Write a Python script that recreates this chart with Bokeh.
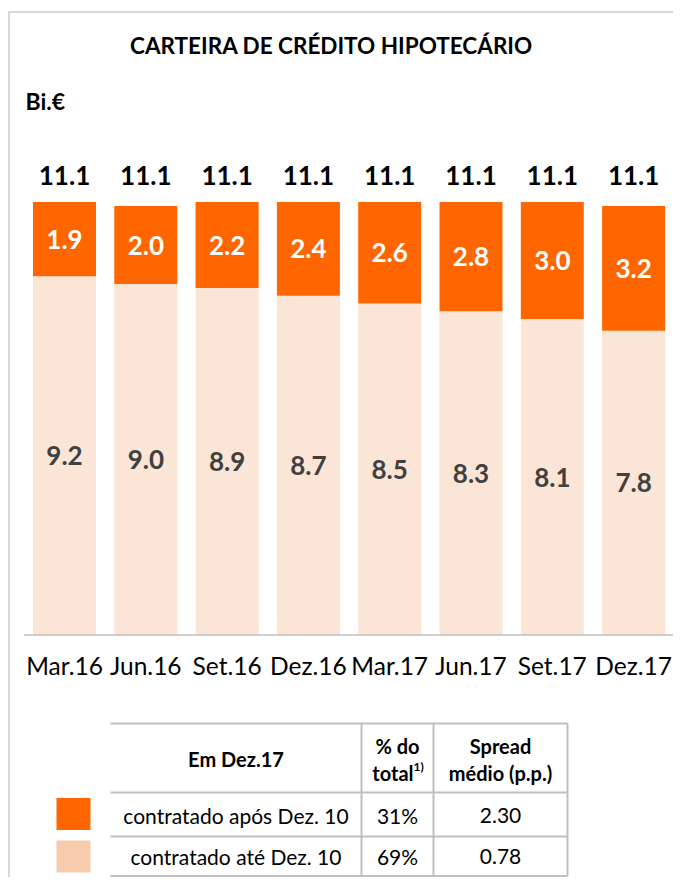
from bokeh.plotting import figure
from bokeh.models import Range1d, ColumnDataSource
from bokeh.core.properties import value
from bokeh.embed import file_html
from bokeh.resources import INLINE

# ---------------- data ----------------
categories = ["Mar.16", "Jun.16", "Set.16", "Dez.16", "Mar.17", "Jun.17", "Set.17", "Dez.17"]
ate_dez10 = [9.2, 9.0, 8.9, 8.7, 8.5, 8.3, 8.1, 7.8]      # contratado até Dez. 10
apos_dez10 = [1.9, 2.0, 2.2, 2.4, 2.6, 2.8, 3.0, 3.2]     # contratado após Dez. 10
totals = [11.1, 11.1, 11.1, 11.1, 11.1, 11.1, 11.1, 11.1]

table_rows = ["contratado após Dez. 10", "contratado até Dez. 10"]
table_pct = ["31%", "69%"]
table_spread = ["2.30", "0.78"]

title_text = "CARTEIRA DE CRÉDITO HIPOTECÁRIO"
unit_text = "Bi.€"

# ---------------- styles ----------------
ORANGE = "#FF6600"
PEACH_BAR = "#FBE5D6"
PEACH_KEY = "#F8CBAD"
GRID = "#BFBFBF"
FRAME = "#D9D9D9"
FONT = value("Lato")

W, H = 673, 877

# bar geometry (px)
first_center = 64.0
step = 81.3
baseline_px = 634.5
px_per_unit = 39.0

x0 = (0 - first_center) / step
x1 = (W - first_center) / step
y1 = baseline_px / px_per_unit
y0 = y1 - H / px_per_unit

p = figure(width=W, height=H, x_range=Range1d(x0, x1), y_range=Range1d(y0, y1),
           output_backend="svg", toolbar_location=None,
           x_axis_location=None, y_axis_location=None, min_border=0,
           outline_line_color=None)
p.grid.visible = False
p.extra_x_ranges = {"px": Range1d(0, W)}
p.extra_y_ranges = {"px": Range1d(H, 0)}

idx = list(range(len(categories)))
src = ColumnDataSource(dict(
    x=idx,
    cat=categories,
    low=ate_dez10,
    high=[a + b for a, b in zip(ate_dez10, apos_dez10)],
    low_mid=[a / 2 for a in ate_dez10],
    high_mid=[a + b / 2 for a, b in zip(ate_dez10, apos_dez10)],
    low_lbl=[f"{v:.1f}" for v in ate_dez10],
    high_lbl=[f"{v:.1f}" for v in apos_dez10],
    tot_y=[t + 27 / px_per_unit for t in totals],
    tot_lbl=[f"{v:.1f}" for v in totals],
    cat_y=[-30 / px_per_unit] * len(categories),
))

# frame (top & left)
p.segment(x0=[8, 8.5], y0=[11.5, 11.5], x1=[W, 8.5], y1=[11.5, H],
          line_color=FRAME, line_width=2, x_range_name="px", y_range_name="px")

# bars
bar_w = 63.0 / step
p.vbar(x="x", bottom=0, top="low", width=bar_w, source=src, fill_color=PEACH_BAR, line_color=None)
p.vbar(x="x", bottom="low", top="high", width=bar_w, source=src, fill_color=ORANGE, line_color=None)

# baseline
p.segment(x0=[-0.5], y0=[0], x1=[len(categories) - 0.5], y1=[0], line_color=GRID, line_width=1.5)

# labels in bars
p.text(x="x", y="low_mid", text="low_lbl", source=src, text_font=FONT, text_font_size="26px",
       text_font_style="bold", text_color="#404040", text_align="center", text_baseline="middle")
p.text(x="x", y="high_mid", text="high_lbl", source=src, text_font=FONT, text_font_size="26px",
       text_font_style="bold", text_color="white", text_align="center", text_baseline="middle")
# totals
p.text(x="x", y="tot_y", text="tot_lbl", source=src, text_font=FONT, text_font_size="26px",
       text_font_style="bold", text_color="black", text_align="center", text_baseline="middle")
# categories
p.text(x="x", y="cat_y", text="cat", source=src, text_font=FONT, text_font_size="24.5px",
       text_color="black", text_align="center", text_baseline="middle")

# title and unit
p.text(x=[331], y=[45], text=[title_text], text_font=FONT, text_font_size="22.5px",
       text_font_style="bold", text_color="black", text_align="center", text_baseline="middle",
       x_range_name="px", y_range_name="px")
p.text(x=[25], y=[100], text=[unit_text], text_font=FONT, text_font_size="23px",
       text_font_style="bold", text_color="black", text_align="left", text_baseline="middle",
       x_range_name="px", y_range_name="px")

# ---------------- table ----------------
tx_left, tx_c1, tx_c2, tx_right = 110, 361, 433, 567
ty_top, ty_head, ty_r1, ty_bot = 723, 792, 836, 875.5
hy = [ty_top, ty_head, ty_r1, ty_bot]
p.segment(x0=[tx_left] * 4, x1=[tx_right] * 4, y0=hy, y1=hy,
          line_color=GRID, line_width=2, x_range_name="px", y_range_name="px")
vx = [tx_c1, tx_c2, tx_right]
p.segment(x0=vx, x1=vx, y0=[ty_top] * 3, y1=[ty_bot] * 3,
          line_color=GRID, line_width=2, x_range_name="px", y_range_name="px")

c1, c2, c3 = (tx_left + tx_c1) / 2, (tx_c1 + tx_c2) / 2, (tx_c2 + tx_right) / 2
hdr = dict(text_font=FONT, text_font_size="20px", text_font_style="bold", text_color="black",
           text_baseline="middle", x_range_name="px", y_range_name="px")
p.text(x=[c1, c2, c3, c3], y=[758, 745, 745, 772],
       text=["Em Dez.17", "% do", "Spread", "médio (p.p.)"], text_align="center", **hdr)
p.text(x=[413], y=[772], text=["total"], text_align="right", **hdr)
p.text(x=[413], y=[766], text=["1)"], text_align="left",
       text_font=FONT, text_font_size="12px", text_font_style="bold", text_color="black",
       text_baseline="middle", x_range_name="px", y_range_name="px")

row_y = [815, 856]
body = dict(text_font=FONT, text_font_size="21px", text_color="black", text_align="center",
            text_baseline="middle", x_range_name="px", y_range_name="px")
p.text(x=[c1] * 2, y=row_y, text=table_rows, **body)
p.text(x=[c2] * 2, y=row_y, text=table_pct, **body)
p.text(x=[c3] * 2, y=row_y, text=table_spread, **body)

# legend keys
p.rect(x=[73] * 2, y=[813.5, 856], width=34, height=32,
       fill_color=[ORANGE, PEACH_KEY], line_color=None, x_range_name="px", y_range_name="px")

open("out.html", "w").write(file_html(p, INLINE))
